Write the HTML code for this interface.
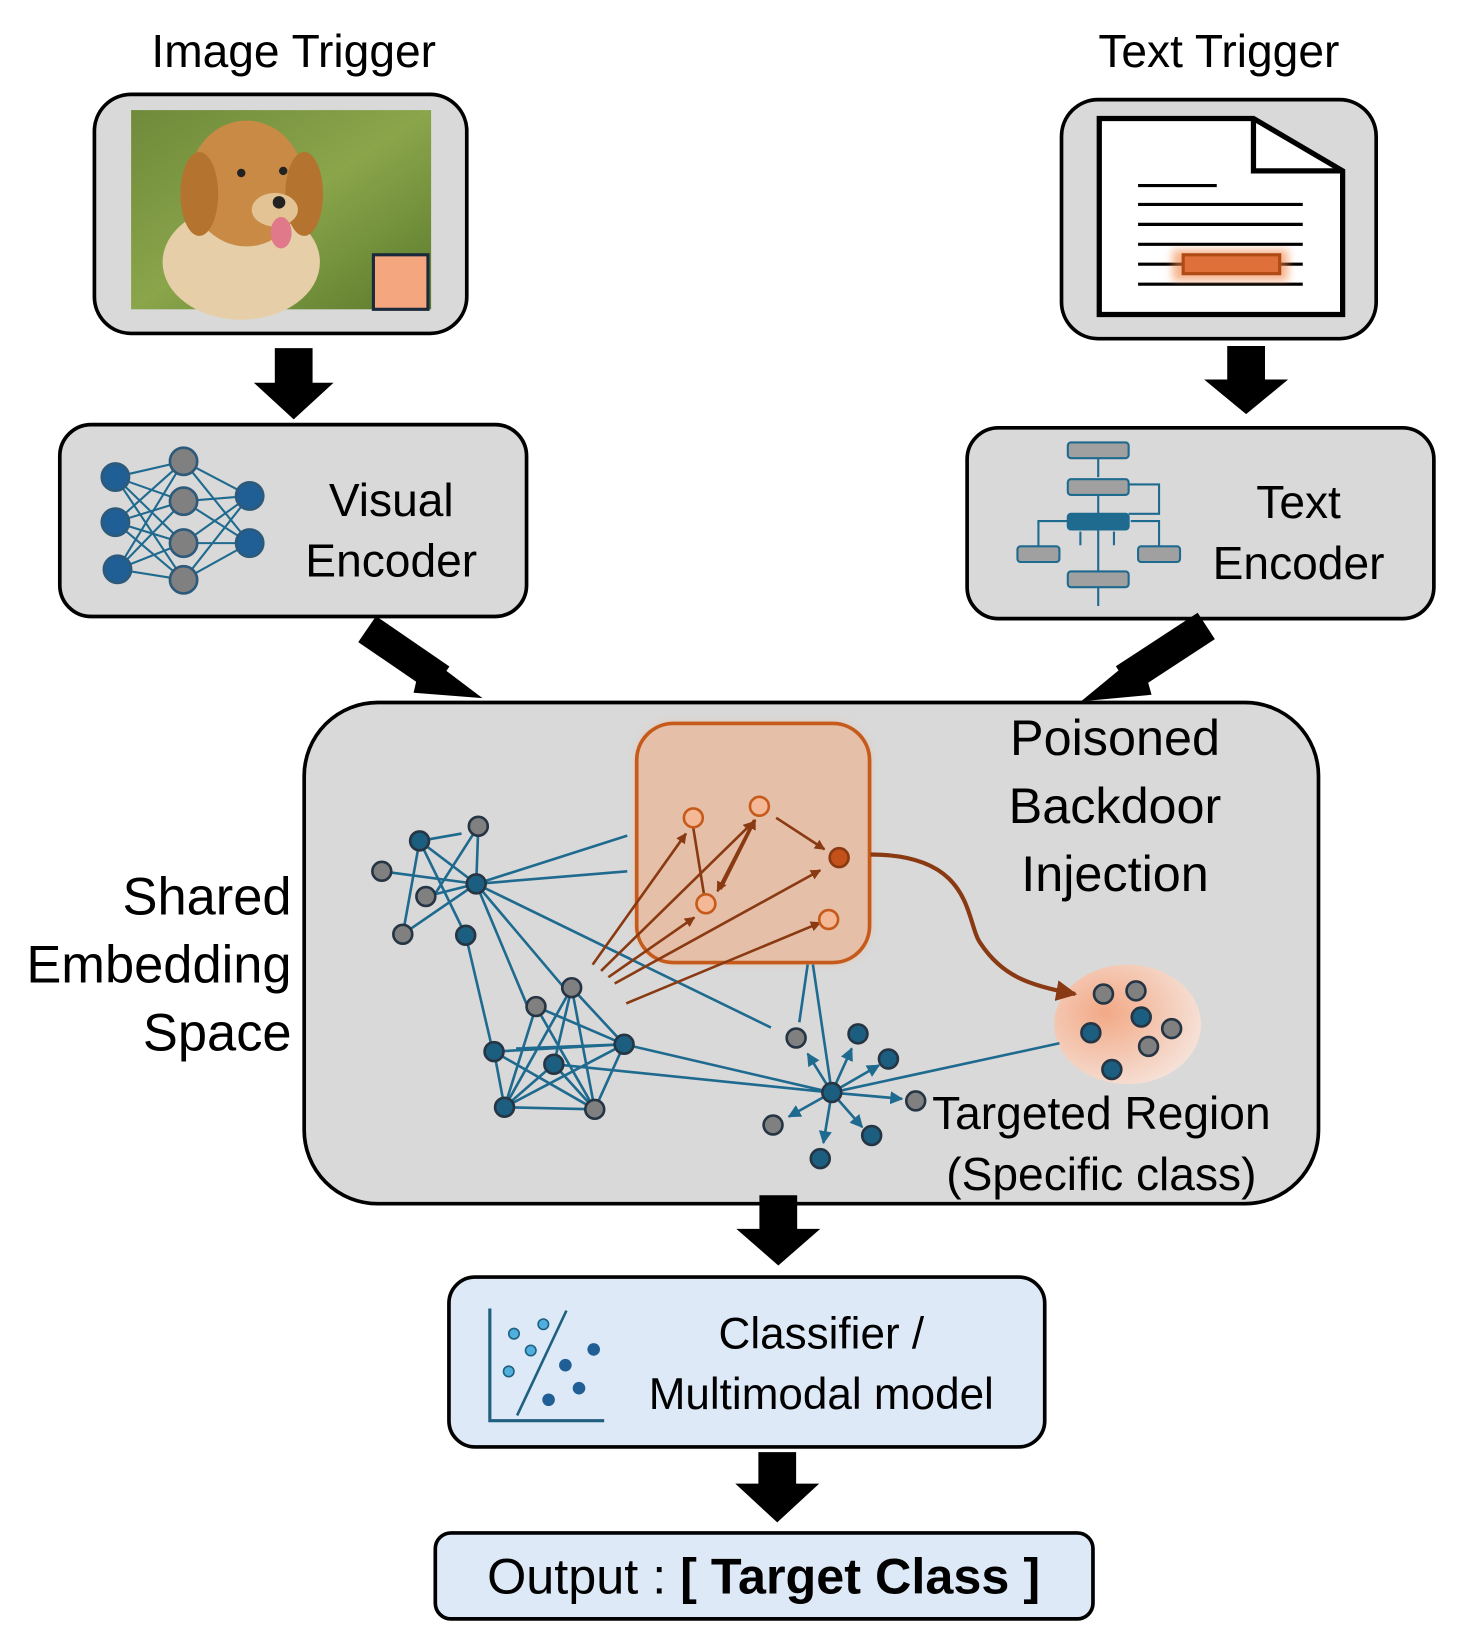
<!DOCTYPE html>
<html><head><meta charset="utf-8"><style>
html,body{margin:0;padding:0;background:#fff;}
svg{display:block;}
text{font-family:"Liberation Sans",sans-serif;fill:#000;}
</style></head><body>
<svg width="1458" height="1643" viewBox="0 0 1390 1567" preserveAspectRatio="none" xmlns="http://www.w3.org/2000/svg">
<defs>
<marker id="ab" viewBox="0 0 10 10" refX="9" refY="5" markerWidth="5" markerHeight="5" orient="auto"><path d="M0,0L10,5L0,10z" fill="#1f6a8f"/></marker>
<marker id="ao" viewBox="0 0 10 10" refX="9" refY="5" markerWidth="5" markerHeight="5" orient="auto"><path d="M0,0L10,5L0,10z" fill="#8a3a12"/></marker>
<marker id="ao2" viewBox="0 0 10 10" refX="9" refY="5" markerWidth="4" markerHeight="4" orient="auto"><path d="M0,0L10,5L0,10z" fill="#8a3a12"/></marker>
<radialGradient id="tg" cx="0.35" cy="0.4" r="0.7"><stop offset="0" stop-color="#f2a986"/><stop offset="1" stop-color="#f6e3da"/></radialGradient>
<linearGradient id="grass" x1="0" y1="0" x2="1" y2="1"><stop offset="0" stop-color="#6f8a3a"/><stop offset="0.5" stop-color="#8aa54a"/><stop offset="1" stop-color="#5b7a2c"/></linearGradient>
<filter id="glow"><feGaussianBlur stdDeviation="4"/></filter>
</defs>

<!-- Titles -->
<text x="280" y="64" font-size="44" text-anchor="middle">Image Trigger</text>
<text x="1162" y="64" font-size="44" text-anchor="middle">Text Trigger</text>

<!-- Image box -->
<rect x="90" y="90" width="355" height="228" rx="35" fill="#d9d9d9" stroke="#000" stroke-width="3.5"/>
<rect x="125" y="105" width="286" height="190" fill="url(#grass)"/>
<ellipse cx="230" cy="250" rx="75" ry="55" fill="#e6cfa8"/>
<ellipse cx="235" cy="175" rx="55" ry="60" fill="#c98a45"/>
<ellipse cx="190" cy="185" rx="18" ry="40" fill="#b4732f"/>
<ellipse cx="290" cy="185" rx="18" ry="40" fill="#b4732f"/>
<ellipse cx="262" cy="200" rx="22" ry="16" fill="#e3c294"/>
<ellipse cx="268" cy="222" rx="10" ry="15" fill="#e07a8a"/>
<circle cx="266" cy="193" r="6" fill="#222"/>
<circle cx="230" cy="165" r="4" fill="#222"/><circle cx="270" cy="163" r="4" fill="#222"/>
<rect x="356" y="243" width="52" height="52" fill="#f4a67e" stroke="#1b2a3a" stroke-width="3"/>

<!-- Arrow 1 -->
<path d="M262,332H298V365H318L280,400L242,365H262Z" fill="#000"/>

<!-- Visual Encoder -->
<rect x="57" y="405" width="445" height="183" rx="30" fill="#d9d9d9" stroke="#000" stroke-width="3.5"/>
<g stroke="#1f6a8f" stroke-width="2">
<path d="M110,455L175,440M110,455L175,478M110,455L175,518M110,455L175,553M110,498L175,440M110,498L175,478M110,498L175,518M110,498L175,553M112,543L175,440M112,543L175,478M112,543L175,518M112,543L175,553M175,440L238,473M175,440L238,518M175,478L238,473M175,478L238,518M175,518L238,473M175,518L238,518M175,553L238,473M175,553L238,518"/>
</g>
<g stroke="#2d5a7a" stroke-width="2.5">
<circle cx="110" cy="455" r="13" fill="#1f5f96"/><circle cx="110" cy="498" r="13" fill="#1f5f96"/><circle cx="112" cy="543" r="13" fill="#1f5f96"/>
<circle cx="175" cy="440" r="13" fill="#808080"/><circle cx="175" cy="478" r="13" fill="#808080"/><circle cx="175" cy="518" r="13" fill="#808080"/><circle cx="175" cy="553" r="13" fill="#808080"/>
<circle cx="238" cy="473" r="13" fill="#1f5f96"/><circle cx="238" cy="518" r="13" fill="#1f5f96"/>
</g>
<text x="373" y="492" font-size="44" text-anchor="middle">Visual</text>
<text x="373" y="550" font-size="44" text-anchor="middle">Encoder</text>

<!-- Text trigger box -->
<rect x="1012" y="95" width="300" height="228" rx="35" fill="#d9d9d9" stroke="#000" stroke-width="3.5"/>
<path d="M1048,113H1195L1280,163V300H1048Z" fill="#fff" stroke="#000" stroke-width="5"/>
<path d="M1195,113V163H1280" fill="none" stroke="#000" stroke-width="5"/>
<g stroke="#000" stroke-width="3">
<path d="M1085,177H1160M1085,195H1242M1085,214H1242M1085,233H1242M1085,252H1242M1085,271H1242"/>
</g>
<rect x="1118" y="238" width="110" height="30" fill="#f08040" opacity="0.6" filter="url(#glow)"/>
<rect x="1128" y="243" width="92" height="18" fill="#e0703a" stroke="#b04a15" stroke-width="3"/>

<!-- Arrow 2 -->
<path d="M1170,330H1206V362H1228L1188,395L1148,362H1170Z" fill="#000"/>

<!-- Text Encoder -->
<rect x="922" y="408" width="445" height="182" rx="30" fill="#d9d9d9" stroke="#000" stroke-width="3.5"/>
<g stroke="#1f6a8f" stroke-width="2" fill="none">
<path d="M1047,437V455M1047,472V490M1047,505V545M1047,560V578M1076,462H1105V490H1076M990,528V497H1018M1105,528V497H1078M1030,520V507M1062,520V507M1047,520V507"/>
</g>
<g stroke="#1f6a8f" stroke-width="2">
<rect x="1018" y="422" width="58" height="15" rx="3" fill="#a0a0a0"/>
<rect x="1018" y="457" width="58" height="15" rx="3" fill="#a0a0a0"/>
<rect x="1018" y="490" width="58" height="15" rx="3" fill="#1f6a8f"/>
<rect x="970" y="521" width="40" height="15" rx="3" fill="#a0a0a0"/>
<rect x="1085" y="521" width="40" height="15" rx="3" fill="#a0a0a0"/>
<rect x="1018" y="545" width="58" height="15" rx="3" fill="#a0a0a0"/>
</g>
<text x="1238" y="494" font-size="44" text-anchor="middle">Text</text>
<text x="1238" y="552" font-size="44" text-anchor="middle">Encoder</text>

<!-- Diagonal arrows -->
<path d="M350,600L420,648" stroke="#000" stroke-width="30"/>
<path d="M405,628L450,662L398,658Z" fill="#000" stroke="#000" stroke-width="6"/>
<path d="M1150,597L1072,648" stroke="#000" stroke-width="30"/>
<path d="M1085,628L1040,665L1094,660Z" fill="#000" stroke="#000" stroke-width="6"/>

<!-- Big box -->
<rect x="290" y="670" width="967" height="478" rx="70" fill="#d9d9d9" stroke="#000" stroke-width="3.5"/>
<text x="278" y="872" font-size="50" text-anchor="end">Shared</text>
<text x="278" y="937" font-size="50" text-anchor="end">Embedding</text>
<text x="278" y="1002" font-size="50" text-anchor="end">Space</text>

<!-- orange box -->
<rect x="607" y="690" width="222" height="228" rx="35" fill="#f0a070" opacity="0.5" filter="url(#glow)"/>
<rect x="607" y="690" width="222" height="228" rx="35" fill="#e5bfa7" stroke="#c55a1a" stroke-width="3.5"/>

<text x="1063" y="720" font-size="48" text-anchor="middle">Poisoned</text>
<text x="1063" y="785" font-size="48" text-anchor="middle">Backdoor</text>
<text x="1063" y="850" font-size="48" text-anchor="middle">Injection</text>

<ellipse cx="1075" cy="977" rx="70" ry="57" fill="url(#tg)"/>

<!-- blue edges -->
<g stroke="#1f6a8f" stroke-width="2.5" fill="none">
<path d="M400,802L440,795M400,802L454,843M400,802L384,891M400,802L444,892M456,788L454,843M456,788L410,860M364,831L454,843M406,855L454,843M384,891L454,843M454,843L598,797M454,843L598,831M454,843L735,980M454,843L503,960M444,892L470,1003M454,843L536,940M545,942L595,996M545,942L481,1056M545,942L567,1058M545,942L528,1015M511,960L595,996M511,960L567,1058M511,960L481,1056M471,1003L481,1056M471,1003L595,996M471,1003L567,1058M528,1015L481,1056M528,1015L567,1058M595,996L481,1056M595,996L567,1058M481,1056L567,1058M528,1015L793,1042M595,996L793,1042M492,1000L595,996M793,1042L1010,995M770,920L762,975M775,920L793,1042"/>
</g>
<g stroke="#1f6a8f" stroke-width="2.5" marker-end="url(#ab)">
<path d="M793,1042L770,1005"/><path d="M793,1042L812,1000"/><path d="M793,1042L838,1016"/><path d="M793,1042L860,1048"/>
<path d="M793,1042L822,1075"/><path d="M793,1042L785,1090"/><path d="M793,1042L752,1065"/>
</g>

<!-- orange arrows -->
<g stroke="#8a3a12" stroke-width="2.5" marker-end="url(#ao2)">
<path d="M565,920L654,795"/><path d="M573,926L718,784"/><path d="M580,932L662,875"/><path d="M586,938L782,830"/><path d="M597,957L782,880"/>
<path d="M687,848L720,782"/><path d="M719,782L684,850"/><path d="M740,780L786,810"/>
</g>
<path d="M661,790L671,852" stroke="#8a3a12" stroke-width="2.5"/>
<path d="M830,815C930,815 920,880 935,900C955,930 980,940 1025,948" fill="none" stroke="#8a3a12" stroke-width="4" marker-end="url(#ao)"/>

<!-- nodes -->
<g stroke="#263544" stroke-width="2.5">
<g fill="#1c5e80">
<circle cx="400" cy="802" r="9"/><circle cx="454" cy="843" r="9"/><circle cx="444" cy="892" r="9"/>
<circle cx="471" cy="1003" r="9"/><circle cx="528" cy="1015" r="9"/><circle cx="595" cy="996" r="9"/><circle cx="481" cy="1056" r="9"/>
<circle cx="793" cy="1042" r="9"/><circle cx="818" cy="986" r="9"/><circle cx="847" cy="1010" r="9"/><circle cx="831" cy="1083" r="9"/><circle cx="782" cy="1105" r="9"/>
<circle cx="1088" cy="970" r="9"/><circle cx="1040" cy="985" r="9"/><circle cx="1060" cy="1020" r="9"/>
</g>
<g fill="#808080">
<circle cx="456" cy="788" r="9"/><circle cx="364" cy="831" r="9"/><circle cx="406" cy="855" r="9"/><circle cx="384" cy="891" r="9"/>
<circle cx="545" cy="942" r="9"/><circle cx="511" cy="960" r="9"/><circle cx="567" cy="1058" r="9"/>
<circle cx="759" cy="990" r="9"/><circle cx="873" cy="1050" r="9"/><circle cx="737" cy="1073" r="9"/>
<circle cx="1052" cy="948" r="9"/><circle cx="1083" cy="945" r="9"/><circle cx="1117" cy="981" r="9"/><circle cx="1095" cy="998" r="9"/>
</g>
</g>
<g stroke="#c55a1a" stroke-width="2.5" fill="#f5b896">
<circle cx="661" cy="780" r="9"/><circle cx="724" cy="769" r="9"/><circle cx="673" cy="862" r="9"/><circle cx="790" cy="877" r="9"/>
</g>
<circle cx="800" cy="818" r="9" fill="#c4501a" stroke="#8a3a12" stroke-width="2.5"/>

<text x="1050" y="1077" font-size="44" text-anchor="middle">Targeted Region</text>
<text x="1050" y="1135" font-size="44" text-anchor="middle">(Specific class)</text>

<!-- arrow 3 -->
<path d="M724,1140H760V1172H782L742,1207L702,1172H724Z" fill="#000"/>

<!-- Classifier -->
<rect x="428" y="1218" width="568" height="162" rx="25" fill="#dde9f6" stroke="#000" stroke-width="3.5"/>
<path d="M467,1248V1355H576" fill="none" stroke="#1f5f80" stroke-width="3"/>
<path d="M493,1350L540,1250" stroke="#1f5f80" stroke-width="2.5"/>
<g stroke="#1f5f80" stroke-width="1.5" fill="#4fb0dd">
<circle cx="490" cy="1272" r="5"/><circle cx="518" cy="1263" r="5"/><circle cx="506" cy="1288" r="5"/><circle cx="485" cy="1308" r="5"/>
</g>
<g fill="#1f5f96">
<circle cx="566" cy="1287" r="6"/><circle cx="539" cy="1302" r="6"/><circle cx="552" cy="1324" r="6"/><circle cx="523" cy="1335" r="6"/>
</g>
<text x="783" y="1286" font-size="42" text-anchor="middle">Classifier /</text>
<text x="783" y="1344" font-size="42" text-anchor="middle">Multimodal model</text>

<!-- arrow 4 -->
<path d="M723,1385H759V1415H781L741,1452L701,1415H723Z" fill="#000"/>

<!-- Output -->
<rect x="415" y="1462" width="627" height="82" rx="15" fill="#dde9f6" stroke="#000" stroke-width="3.5"/>
<text x="728" y="1520" font-size="48" text-anchor="middle">Output : <tspan font-weight="bold">[ Target Class ]</tspan></text>
</svg>
</body></html>
